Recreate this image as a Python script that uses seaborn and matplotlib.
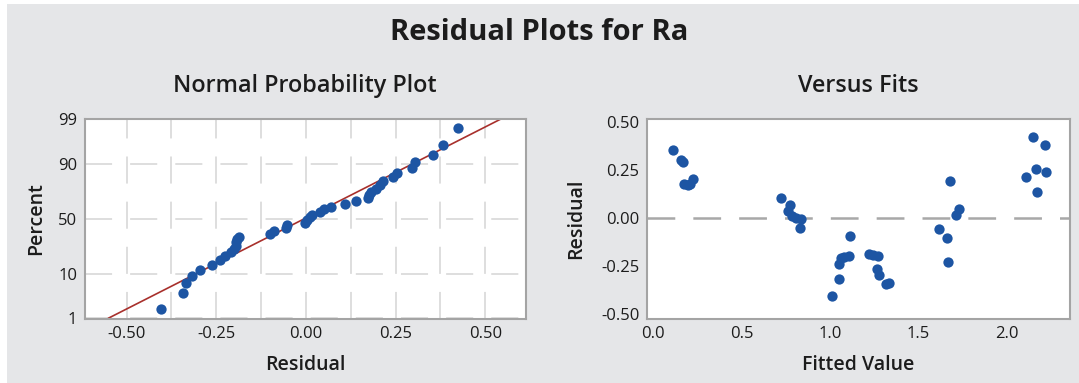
import numpy as np
import pandas as pd
import matplotlib
matplotlib.use("Agg")
import matplotlib.pyplot as plt
from matplotlib.patches import Rectangle
from matplotlib.ticker import MultipleLocator
import seaborn as sns
from statistics import NormalDist

# ---------------- data ----------------
fitted = [0.113, 0.158, 0.167, 0.173, 0.195, 0.211, 0.224,
          0.723, 0.776, 0.761, 0.785, 0.808, 0.836, 0.832,
          1.011, 1.053, 1.049, 1.062, 1.081, 1.109, 1.115,
          1.218, 1.243, 1.269, 1.266, 1.279, 1.318, 1.331,
          1.618, 1.661, 1.670, 1.680, 1.714, 1.727,
          2.109, 2.150, 2.162, 2.173, 2.216, 2.220]
residual = [0.354, 0.303, 0.295, 0.177, 0.173, 0.180, 0.206,
            0.108, 0.069, 0.038, 0.012, 0.003, -0.002, -0.052,
            -0.404, -0.317, -0.239, -0.208, -0.201, -0.196, -0.090,
            -0.187, -0.192, -0.196, -0.262, -0.295, -0.343, -0.335,
            -0.057, -0.101, -0.227, 0.194, 0.017, 0.050,
            0.215, 0.423, 0.255, 0.139, 0.381, 0.243]
percent_ticks = [1, 10, 50, 90, 99]
x_ticks_left = [-0.50, -0.25, 0.00, 0.25, 0.50]
x_ticks_right = [0.0, 0.5, 1.0, 1.5, 2.0]
y_ticks_right = [-0.50, -0.25, 0.00, 0.25, 0.50]
line_mean = -0.0045   # fitted normal line
line_sd = 0.235

# ---------------- style ----------------
BG = "#e5e6e8"
BLUE = "#1d55a3"
RED = "#a8302c"
FRAME = "#a4a4a4"
GRID = "#d8d8d8"
TXT = "#1c1c1c"

sns.set_theme(style="white")
plt.rcParams['font.family'] = ['Open Sans', 'DejaVu Sans']
plt.rcParams['lines.scale_dashes'] = False

W, H = 1079, 383
fig = plt.figure(figsize=(W / 100, H / 100), dpi=100, facecolor="white")
fig.patches.append(Rectangle((7 / W, 0), 1 - 7 / W, 1 - 4 / H, transform=fig.transFigure,
                             facecolor=BG, edgecolor="none", zorder=-10))


def rect(x0, x1, ytop, ybot):
    return [x0 / W, 1 - ybot / H, (x1 - x0) / W, (ybot - ytop) / H]


ax1 = fig.add_axes(rect(85, 525.5, 119, 318.5))
ax2 = fig.add_axes(rect(647, 1069.5, 119, 318.5))

nd = NormalDist()

# ---------- normal probability plot ----------
res_sorted = np.sort(np.array(residual))
n = len(res_sorted)
ranks = np.arange(1, n + 1)
pp = (ranks - 0.3) / (n + 0.4)          # median ranks (Benard)
zq = np.array([nd.inv_cdf(p) for p in pp])
df1 = pd.DataFrame({"Residual": res_sorted, "z": zq})

z_lo, z_hi = nd.inv_cdf(0.01), nd.inv_cdf(0.99)
line_df = pd.DataFrame({"x": [line_mean + line_sd * z_lo, line_mean + line_sd * z_hi],
                        "z": [z_lo, z_hi]})

sns.lineplot(data=line_df, x="x", y="z", ax=ax1, color=RED, lw=1.2, zorder=2)
sns.scatterplot(data=df1, x="Residual", y="z", ax=ax1, s=55, color=BLUE,
                edgecolor=BLUE, linewidth=0, zorder=3)

ax1.set_xlim(-0.616, 0.612)
ax1.set_ylim(z_lo - 0.005, z_hi + 0.005)
ax1.set_xticks(x_ticks_left)
ax1.set_xticklabels([f"{v:.2f}" for v in x_ticks_left])
ax1.xaxis.set_minor_locator(MultipleLocator(0.125))
ytk = [nd.inv_cdf(p / 100) for p in percent_ticks]
ax1.set_yticks(ytk)
ax1.set_yticklabels([str(p) for p in percent_ticks])
ax1.grid(True, which="both", axis="x", color=GRID, lw=1.2, linestyle=(0, (19.5, 13)))
ax1.grid(True, which="major", axis="y", color=GRID, lw=1.2, linestyle=(0, (19.5, 13)))
ax1.tick_params(which="minor", length=0)

# ---------- versus fits ----------
df2 = pd.DataFrame({"Fitted Value": fitted, "Residual": residual})
ax2.axhline(0, color="#a8a8a8", lw=1.8, linestyle=(0, (20, 13)), zorder=1)
sns.scatterplot(data=df2, x="Fitted Value", y="Residual", ax=ax2, s=55, color=BLUE,
                edgecolor=BLUE, linewidth=0, zorder=3)
ax2.set_xlim(-0.034, 2.354)
ax2.set_ylim(-0.521, 0.518)
ax2.set_xticks(x_ticks_right)
ax2.set_xticklabels([f"{v:.1f}" for v in x_ticks_right])
ax2.set_yticks(y_ticks_right)
ax2.set_yticklabels([f"{v:.2f}" for v in y_ticks_right])

for ax in (ax1, ax2):
    ax.set_facecolor("white")
    for s in ax.spines.values():
        s.set_color(FRAME)
        s.set_linewidth(1.5)
        s.set_visible(True)
    ax.tick_params(which="major", direction="out", length=3, width=1, color=FRAME,
                   labelsize=12, labelcolor=TXT, pad=2.5)
    ax.set_axisbelow(True)

# axis labels
LBL = dict(fontsize=14, fontweight="semibold", color=TXT)
ax1.set_xlabel("Residual", **LBL)
ax1.set_ylabel("Percent", **LBL)
ax2.set_xlabel("Fitted Value", **LBL)
ax2.set_ylabel("Residual", **LBL)
for ax, ylx in ((ax1, (36 - 85) / 440.5), (ax2, (576 - 647) / 422.5)):
    ax.xaxis.label.set_va("center")
    ax.xaxis.set_label_coords(0.5, (318.5 - 365) / 199.5)
    ax.yaxis.label.set_va("center")
    ax.yaxis.set_label_coords(ylx, 0.5)

# titles
TT = dict(fontsize=16.8, fontweight="semibold", color=TXT,
          y=1 + (119 - 86) / 199.5, va="center", pad=0)
ax1.set_title("Normal Probability Plot", **TT)
ax2.set_title("Versus Fits", **TT)
fig.text(0.5, 1 - 33 / H, "Residual Plots for Ra", ha="center", va="center",
         fontsize=21, fontweight="bold", color=TXT)

fig.savefig("out.png", dpi=100, facecolor=fig.get_facecolor())
